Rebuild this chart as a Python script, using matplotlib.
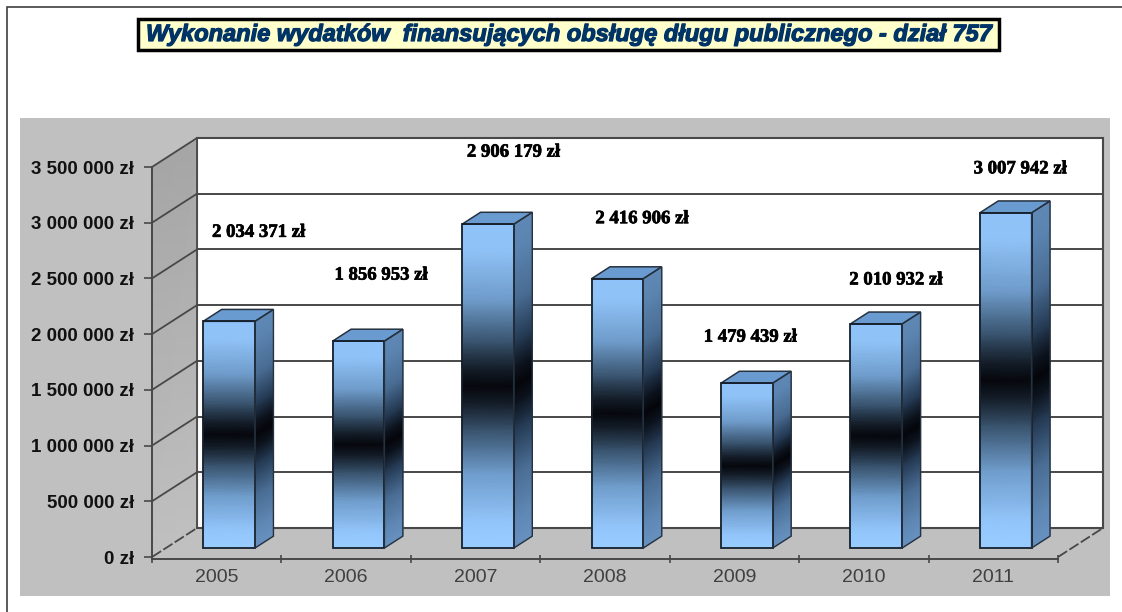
import numpy as np
import matplotlib.pyplot as plt
import matplotlib.patheffects as pe
from matplotlib.colors import LinearSegmentedColormap
from matplotlib.patches import Rectangle, Polygon

years = ['2005', '2006', '2007', '2008', '2009', '2010', '2011']
values = [2034371, 1856953, 2906179, 2416906, 1479439, 2010932, 3007942]
value_labels = ['2 034 371 zł', '1 856 953 zł', '2 906 179 zł', '2 416 906 zł',
                '1 479 439 zł', '2 010 932 zł', '3 007 942 zł']
y_ticks = [0, 500000, 1000000, 1500000, 2000000, 2500000, 3000000, 3500000]
y_tick_labels = ['0 zł', '500 000 zł', '1 000 000 zł', '1 500 000 zł', '2 000 000 zł',
                 '2 500 000 zł', '3 000 000 zł', '3 500 000 zł']
title = 'Wykonanie wydatków  finansujących obsługę długu publicznego - dział 757'

W, H = 1122, 612
# offsets of the value labels from the bar top, in pixels (hand placed in the original)
label_dx = [28, 21, 24, 23, 2, 18, 13]
label_dy = [89, 66, 72, 60, 46, 44, 44]

plt.rcParams['font.family'] = ['Liberation Sans', 'DejaVu Sans']
fig = plt.figure(figsize=(W / 100, H / 100), dpi=100, facecolor='white')

# frame and grey panel behind the chart
fig.add_artist(Rectangle((6.5 / W, -0.01), 1.1, 1 - 7 / H + 0.01, transform=fig.transFigure,
                         fc='white', ec='#404040', lw=1.2, zorder=-2))
fig.add_artist(Rectangle((20 / W, 1 - 596 / H), 1090 / W, 478 / H, transform=fig.transFigure,
                         fc='#c0c0c0', ec='none', zorder=-1))

ax = fig.add_axes([152 / W, 1 - 557 / H, 906 / W, 390 / H])
ax.set_xlim(0, 7)
ax.set_ylim(0, 3500000)
ax.patch.set_visible(False)

# oblique depth of the box
DX = 45 / (906 / 7)
DY = 29 / (390 / 3500000)
line_c = '#484848'


def proj(x, y, d):
    return x + d * DX, y + d * DY


# back wall, left wall, floor
ax.add_patch(Polygon([proj(0, 0, 1), proj(7, 0, 1), proj(7, 3500000, 1), proj(0, 3500000, 1)],
                     fc='white', ec=line_c, lw=1.5, clip_on=False, zorder=1))
wall_x = np.array([[0, DX], [0, DX]])
wall_y = np.array([[0, DY], [3500000, 3500000 + DY]])
wall_cmap = LinearSegmentedColormap.from_list('wall', ['#c0c0c0', '#a6a6a6'])
ax.pcolormesh(wall_x, wall_y, np.array([[0, 0], [1, 1]]), cmap=wall_cmap, shading='gouraud',
              clip_on=False, zorder=1)
ax.plot([DX, DX], [DY, 3500000 + DY], color=line_c, lw=1.3, clip_on=False, zorder=2)

for t in y_ticks:
    x0, y0 = proj(0, t, 0)
    x1, y1 = proj(0, t, 1)
    ax.plot([x0, x1], [y0, y1], color=line_c, lw=1.3, clip_on=False, zorder=2,
            ls=(0, (6, 1.5)) if t == 0 else '-')
    ax.plot([x1, 7 + DX], [y1, y1], color=line_c, lw=1.4, clip_on=False, zorder=2)
ax.plot([7, 7 + DX], [0, DY], color=line_c, lw=1.3, ls=(0, (6, 1.5)), clip_on=False, zorder=2)

# bars
width = 0.4
d_front, d_back = 0.31, 0.72
shift = -0.012
stops = [0, 0.08, 0.23, 0.36, 0.44, 0.5, 0.56, 0.64, 0.77, 0.92, 1]
grad = LinearSegmentedColormap.from_list('bar', list(zip(stops, [
    '#99ccff', '#92c5fa', '#6f9ccb', '#3a5570', '#16202c', '#05070c',
    '#16202c', '#3a5570', '#6f9ccb', '#8fc2f6', '#8fc2f8'])))
side_grad = LinearSegmentedColormap.from_list('side', list(zip(stops, [
    '#6791c0', '#6089b6', '#4a6d94', '#263c56', '#0e1520', '#04060a',
    '#0e1520', '#263c56', '#4a6d94', '#5b84b0', '#5f88b6'])))
s = np.linspace(0, 1, 61)
for i, v in enumerate(values):
    xl = i + 0.5 - width / 2 + shift
    xr = i + 0.5 + width / 2 + shift

    # front face
    fx0, base = proj(xl, 0, d_front)
    fx1, _ = proj(xr, 0, d_front)
    X = np.array([[fx0, fx1]] * len(s))
    Y = np.column_stack([base + s * v, base + s * v])
    C = np.column_stack([s, s])
    ax.pcolormesh(X, Y, C, cmap=grad, vmin=0, vmax=1, shading='gouraud', clip_on=False, zorder=4)

    # side face, the band follows the depth slant
    bx1, base2 = proj(xr, 0, d_back)
    X = np.array([[fx1, bx1]] * len(s))
    Y = np.column_stack([base + s * v, base2 + s * v])
    ax.pcolormesh(X, Y, C, cmap=side_grad, vmin=0, vmax=1, shading='gouraud', clip_on=False, zorder=4)

    # top face and outlines
    top = [proj(xl, v, d_front), proj(xr, v, d_front), proj(xr, v, d_back), proj(xl, v, d_back)]
    ax.add_patch(Polygon(top, fc='#6a9bd0', ec='#26323f', lw=1.1, clip_on=False, zorder=5))
    front = [proj(xl, 0, d_front), proj(xr, 0, d_front), proj(xr, v, d_front), proj(xl, v, d_front)]
    ax.add_patch(Polygon(front, fc='none', ec='#16202c', lw=1.3, clip_on=False, zorder=5))
    side = [proj(xr, 0, d_front), proj(xr, 0, d_back), proj(xr, v, d_back), proj(xr, v, d_front)]
    ax.add_patch(Polygon(side, fc='none', ec='#26323f', lw=1.0, clip_on=False, zorder=5))

    # value label
    xt, yt = proj(i + 0.5, v, d_front)
    ax.annotate(value_labels[i], (xt, yt), xytext=(label_dx[i] * 0.72, label_dy[i] * 0.72),
                textcoords='offset points', ha='center', va='center', fontsize=13.5,
                fontweight='bold', family='Liberation Serif', color='black', zorder=6,
                annotation_clip=False,
                path_effects=[pe.withStroke(linewidth=0.5, foreground='black')])

# axes
ax.spines['top'].set_visible(False)
ax.spines['right'].set_visible(False)
ax.spines['bottom'].set_position(('outward', 1.5))
for sp in ['left', 'bottom']:
    ax.spines[sp].set_linewidth(1.4)
    ax.spines[sp].set_color(line_c)
    ax.spines[sp].set_zorder(3)
ax.set_yticks(y_ticks, y_tick_labels)
ax.tick_params(axis='y', length=6, width=1.2, color=line_c, labelsize=13.5, pad=7, labelcolor='#111111')
for lab in ax.get_yticklabels():
    lab.set_fontweight('bold')
ax.set_xticks(np.arange(8), [''] * 8)
ax.tick_params(axis='x', which='major', direction='inout', length=6, width=1.2, color=line_c)
ax.set_xticks(np.arange(7) + 0.5, years, minor=True)
ax.tick_params(axis='x', which='minor', length=0, labelsize=14, labelcolor='#404040', pad=7)

# title box
fig.add_artist(Rectangle((138 / W, 1 - 50 / H), 861 / W, 31 / H, transform=fig.transFigure,
                         fc='#ffffcc', ec='black', lw=2.5, zorder=2))
fig.text(569 / W, 1 - 34.5 / H, title, ha='center', va='center', fontsize=17, fontweight='bold',
         fontstyle='italic', color='#003366', zorder=3,
         path_effects=[pe.withStroke(linewidth=0.9, foreground='#003366')])

fig.savefig('out.png', dpi=100)
